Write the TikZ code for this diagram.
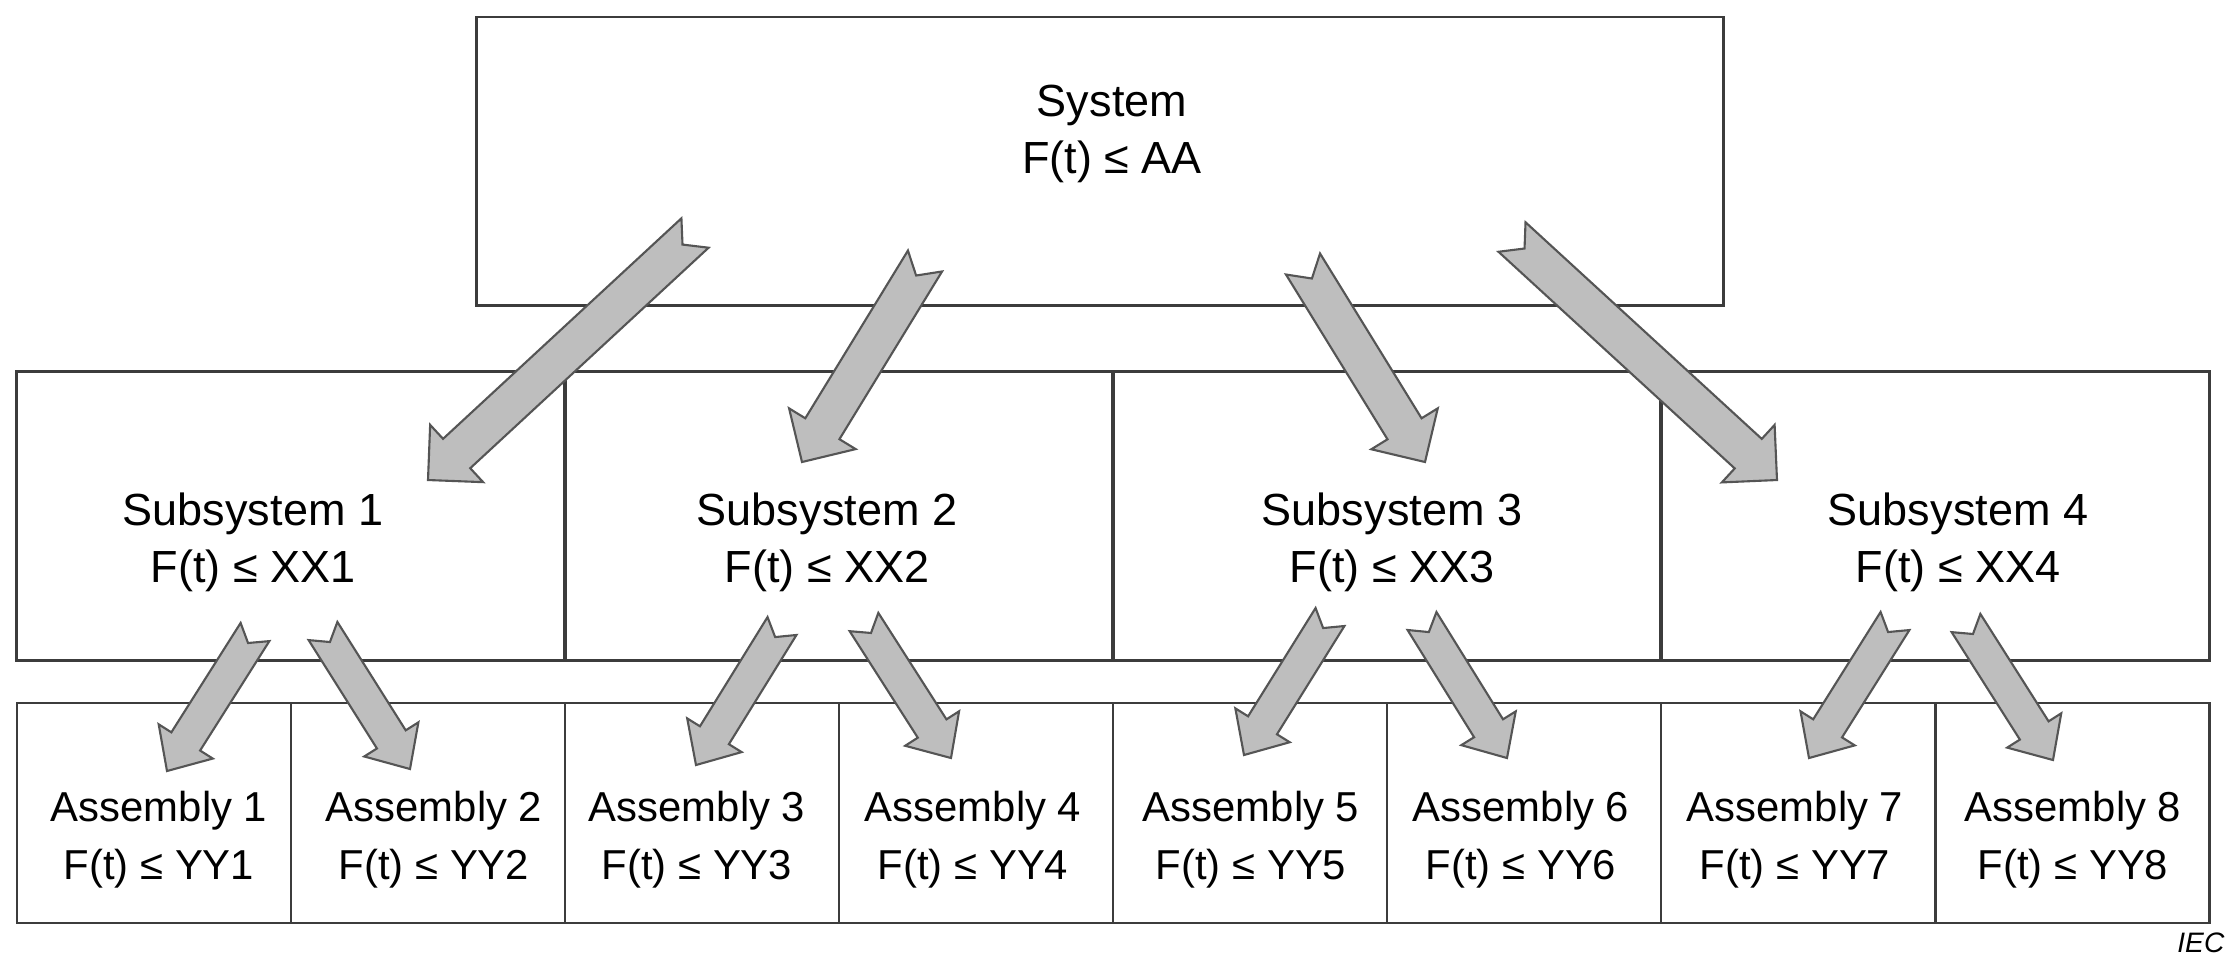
\documentclass[tikz,border=0pt]{standalone}
\usepackage{fontspec}
\setmainfont{Liberation Sans}
\usepackage{tikz}
\usetikzlibrary{calc}

\definecolor{boxline}{HTML}{3C3C3C}
\definecolor{arrowfill}{HTML}{BEBEBE}
\definecolor{arrowline}{HTML}{555555}

\begin{document}
\begin{tikzpicture}[x=0.01cm,y=-0.01cm]
  \tikzset{
    box/.style={draw=boxline,line width=0.8pt,inner sep=0pt},
    label/.style={align=center,inner sep=0pt,
      font=\fontsize{12.8}{16.2}\selectfont},
    asmlabel/.style={align=center,inner sep=0pt,
      font=\fontsize{11.9}{16.5}\selectfont},
    arrowbody/.style={draw=arrowline,fill=arrowfill,line width=0.6pt,
      line join=miter}
  }
  \useasboundingbox (0,0) rectangle (2226,956);

  % notched block arrow: #1 tail, #2 tip, #3 half shaft, #4 half head,
  % #5 head length, #6 notch depth
  \newcommand\BlockArrow[6]{%
    \coordinate (hb) at ($(#2)!#5!(#1)$);
    \draw[arrowbody]
      ($(#1)!#3!90:(#2)$) -- ($(hb)!#3!90:(#2)$) -- ($(hb)!#4!90:(#2)$)
      -- (#2)
      -- ($(hb)!#4!-90:(#2)$) -- ($(hb)!#3!-90:(#2)$) -- ($(#1)!#3!-90:(#2)$)
      -- ($(#1)!#6!(#2)$) -- cycle;}
  \newcommand\BigArrow[2]{\BlockArrow{#1}{#2}{0.2cm}{0.39cm}{0.39cm}{0.17cm}}
  \newcommand\SmallArrow[2]{\BlockArrow{#1}{#2}{0.17cm}{0.32cm}{0.35cm}{0.13cm}}

  % top level
  \node[box,minimum width=12.46cm,minimum height=2.88cm] (sys) at (1100,161) {};
  \node[label] (systxt) at (1112,134) {System\\F(t) ≤ AA};

  % subsystem row
  \node[box,minimum width=5.48cm,minimum height=2.89cm] (sub1) at (291,516) {};
  \node[box,minimum width=5.48cm,minimum height=2.89cm] (sub2) at (839,516) {};
  \node[box,minimum width=5.48cm,minimum height=2.89cm] (sub3) at (1387,516) {};
  \node[box,minimum width=5.48cm,minimum height=2.89cm] (sub4) at (1935,516) {};
  \node[label] (sub1txt) at (253,542) {Subsystem 1\\F(t) ≤ XX1};
  \node[label] (sub2txt) at (827,542) {Subsystem 2\\F(t) ≤ XX2};
  \node[label] (sub3txt) at (1392,542) {Subsystem 3\\F(t) ≤ XX3};
  \node[label] (sub4txt) at (1958,542) {Subsystem 4\\F(t) ≤ XX4};

  % assembly row
  \foreach \i/\x/\tx in {1/154/159,2/428/434,3/702/697,4/976/973,
                         5/1250/1251,6/1524/1521,7/1798/1795,8/2072/2073} {
    \node[box,minimum width=2.74cm,minimum height=2.2cm] (asm\i) at (\x,813) {};
    \node[asmlabel] (asm\i txt) at (\tx,840) {Assembly \i\\F(t) ≤ YY\i};
  }

  % arrow ends
  \coordinate (sysout1) at (695,233);  \coordinate (subin1) at (428,480);
  \coordinate (sysout2) at (925,261);  \coordinate (subin2) at (802,462);
  \coordinate (sysout3) at (1303,264); \coordinate (subin3) at (1425,462);
  \coordinate (sysout4) at (1512,237); \coordinate (subin4) at (1777,480);

  \coordinate (subout1) at (255,632);  \coordinate (asmin1) at (167,771);
  \coordinate (subout2) at (323,631);  \coordinate (asmin2) at (410,769);
  \coordinate (subout3) at (782,626);  \coordinate (asmin3) at (696,765);
  \coordinate (subout4) at (864,622);  \coordinate (asmin4) at (951,758);
  \coordinate (subout5) at (1330,617); \coordinate (asmin5) at (1244,755);
  \coordinate (subout6) at (1422,621); \coordinate (asmin6) at (1507,758);
  \coordinate (subout7) at (1895,621); \coordinate (asmin7) at (1809,758);
  \coordinate (subout8) at (1966,623); \coordinate (asmin8) at (2053,760);

  \foreach \i in {1,...,4} {\BigArrow{sysout\i}{subin\i}}
  \foreach \i in {1,...,8} {\SmallArrow{subout\i}{asmin\i}}

  \node[anchor=base east,inner sep=0pt,font=\fontsize{8}{9}\selectfont\itshape]
    (iec) at (2225,952) {IEC};
\end{tikzpicture}
\end{document}
